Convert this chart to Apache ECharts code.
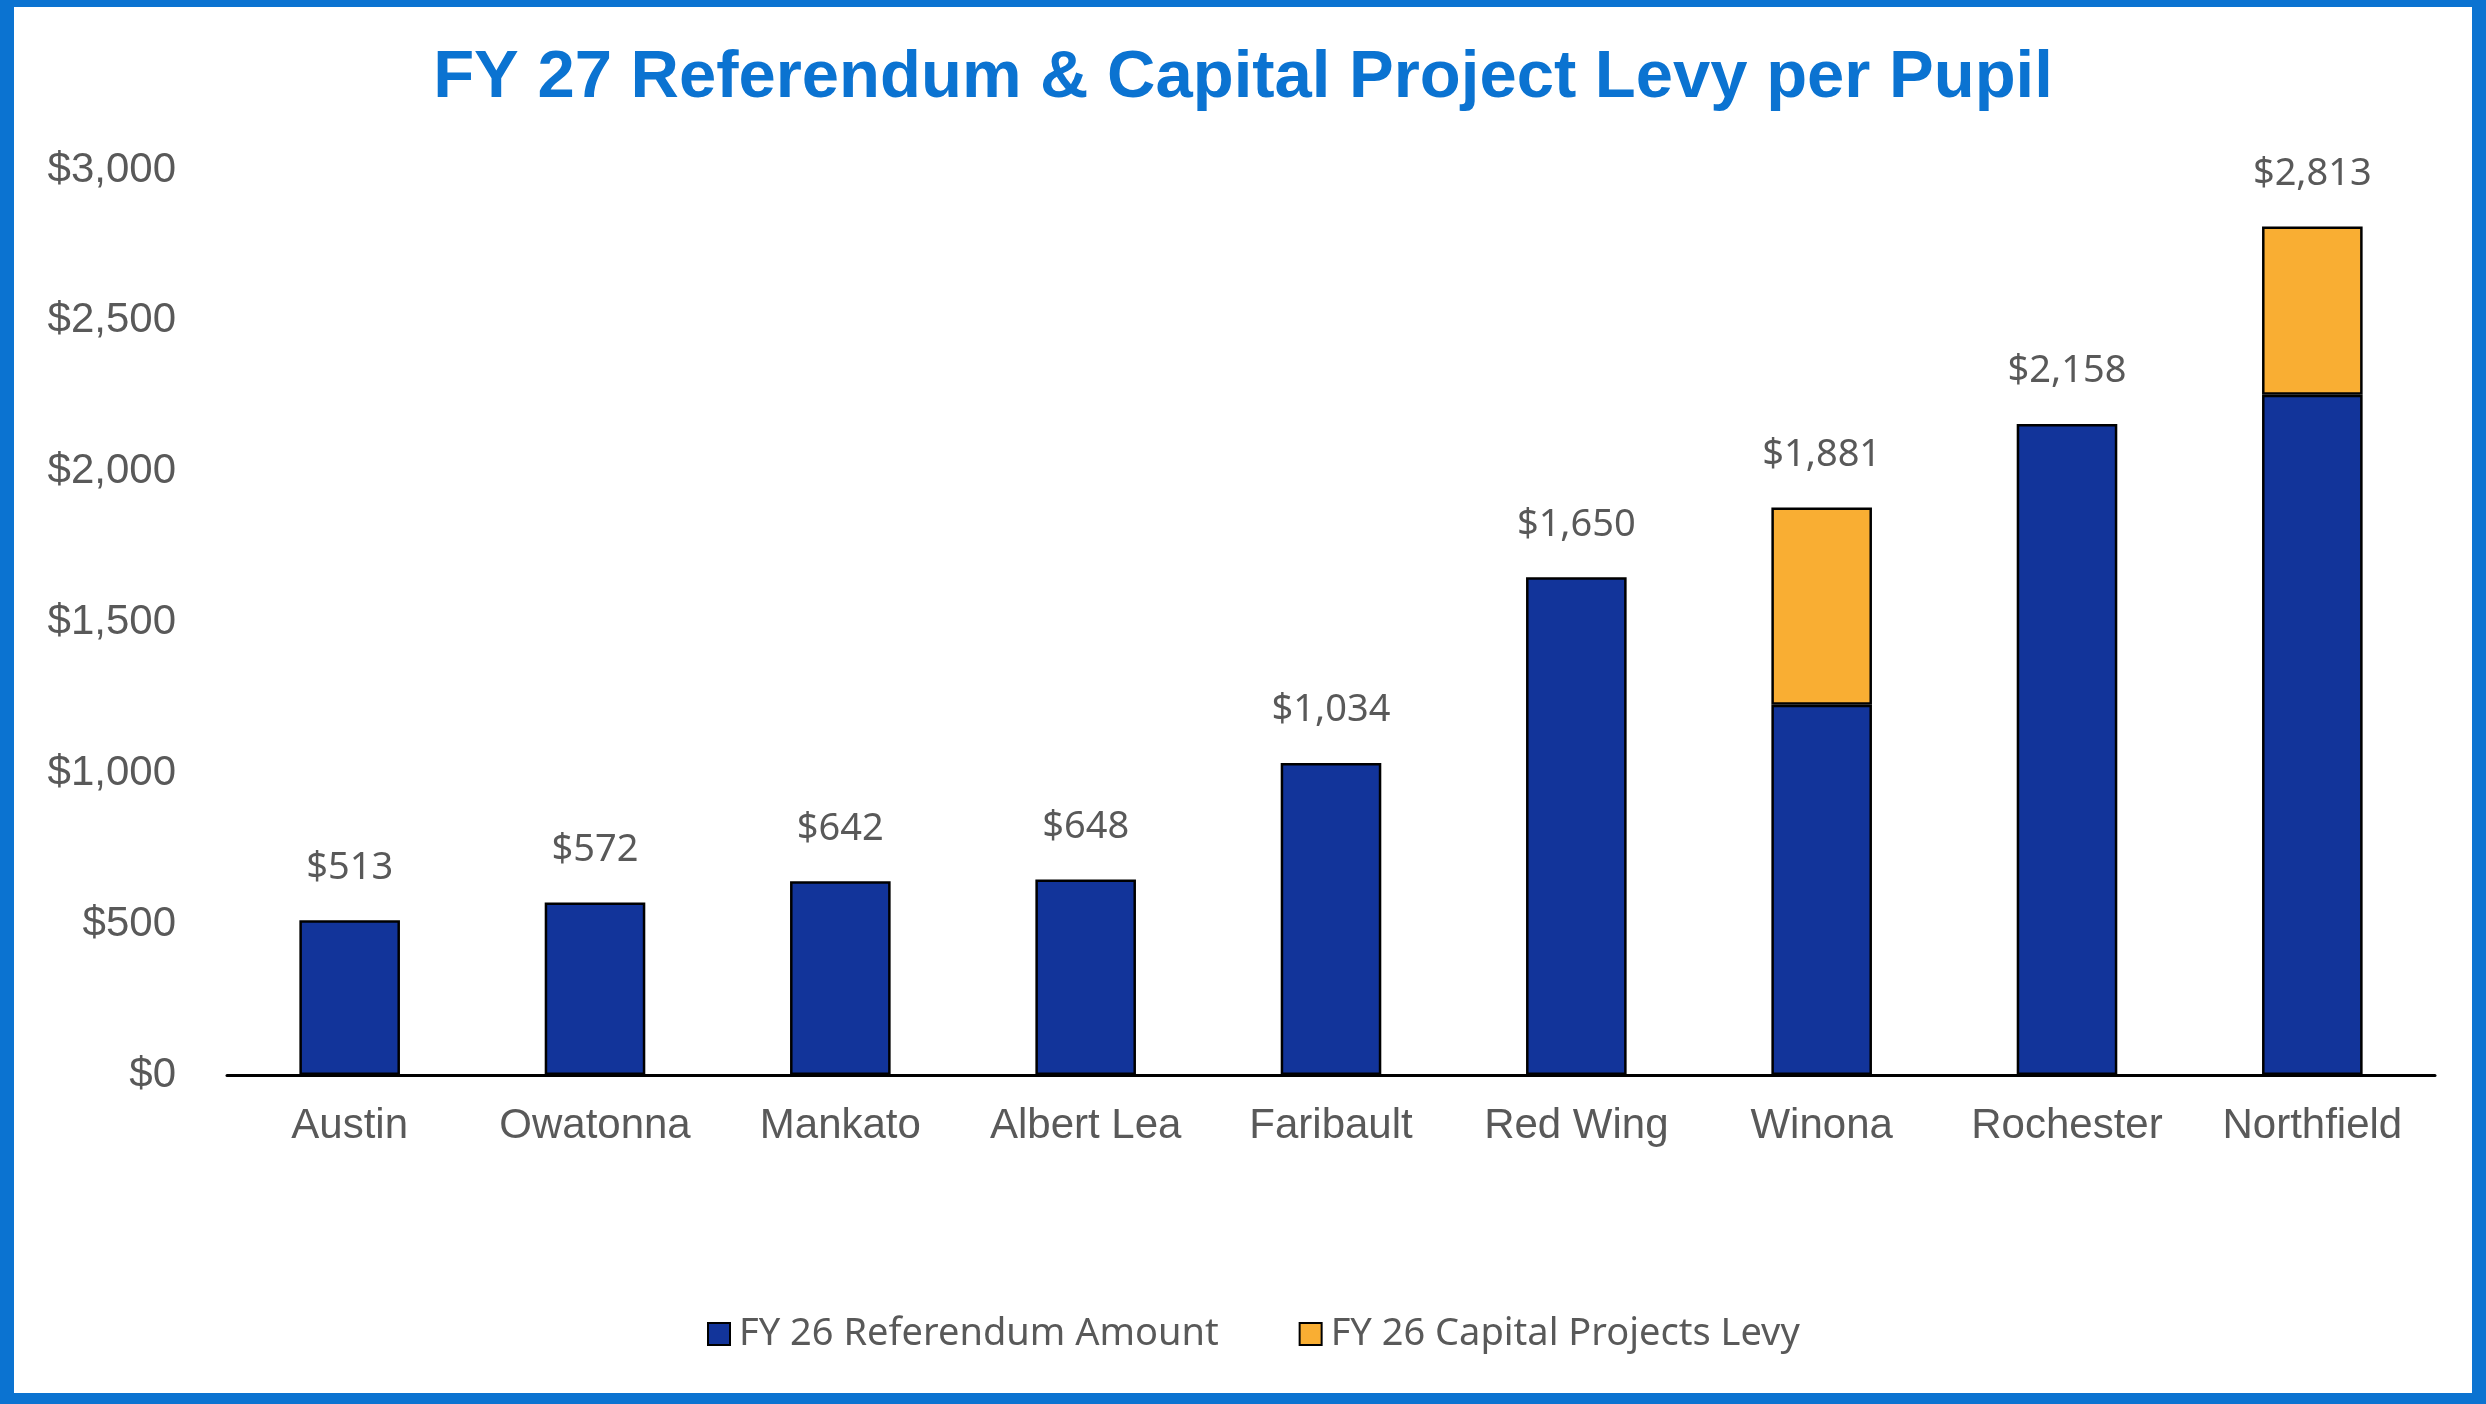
<!DOCTYPE html>
<html>
<head>
<meta charset="utf-8">
<script src="https://cdn.jsdelivr.net/npm/echarts@6/dist/echarts.min.js"></script>
<style>
html,body{margin:0;padding:0;background:#fff;}
#chart{width:2486px;height:1404px;}
</style>
</head>
<body>
<div id="chart"></div>
<script>
const categories = ['Austin','Owatonna','Mankato','Albert Lea','Faribault','Red Wing','Winona','Rochester','Northfield'];
const referendum = [513, 572, 642, 648, 1034, 1650, 1227, 2158, 2255];
const capitalLevy = [0, 0, 0, 0, 0, 0, 654, 0, 558];
const totals = [513, 572, 642, 648, 1034, 1650, 1881, 2158, 2813];
const yTicks = [0, 500, 1000, 1500, 2000, 2500, 3000];

const fmt = v => '$' + Number(v).toLocaleString('en-US');

const chart = echarts.init(document.getElementById('chart'));
const frame = '#0b73d1';
chart.setOption({
  animation: false,
  backgroundColor: '#ffffff',
  title: {
    text: 'FY 27 Referendum & Capital Project Levy per Pupil',
    left: 'center',
    top: 40,
    textStyle: { fontFamily: 'Liberation Sans, Arial, sans-serif', fontWeight: 'bold', fontSize: 67, color: '#0b73d1' }
  },
  legend: {
    bottom: 46,
    left: 702,
    data: ['FY 26 Referendum Amount', 'FY 26 Capital Projects Levy'],
    icon: 'rect',
    itemWidth: 22,
    itemHeight: 22,
    itemGap: 80,
    textStyle: { fontFamily: 'Noto Sans, sans-serif', fontSize: 38, color: '#595959', padding: [0, 0, 0, 4] }
  },
  grid: { left: 227, right: 51, top: 170, bottom: 329, containLabel: false },
  xAxis: {
    type: 'category',
    data: categories,
    axisLine: { show: true, lineStyle: { color: '#000000', width: 3 } },
    axisTick: { show: false },
    axisLabel: { interval: 0, margin: 30, fontFamily: 'Liberation Sans, Arial, sans-serif', fontSize: 42, color: '#595959' }
  },
  yAxis: {
    type: 'value',
    min: yTicks[0],
    max: yTicks[yTicks.length - 1],
    interval: 500,
    splitLine: { show: false },
    axisLine: { show: false },
    axisTick: { show: false },
    axisLabel: { margin: 51, fontFamily: 'Liberation Sans, Arial, sans-serif', fontSize: 42, color: '#595959', formatter: fmt }
  },
  series: [
    {
      name: 'FY 26 Referendum Amount',
      type: 'bar',
      stack: 'total',
      data: referendum,
      barWidth: '41%',
      itemStyle: { color: '#12349a', borderColor: '#000000', borderWidth: 2.5 }
    },
    {
      name: 'FY 26 Capital Projects Levy',
      type: 'bar',
      stack: 'total',
      data: capitalLevy.map(v => v === 0 ? null : v),
      barWidth: '41%',
      itemStyle: { color: '#f9ae33', borderColor: '#000000', borderWidth: 2.5 }
    },
    {
      name: 'Total',
      type: 'line',
      data: totals,
      symbol: 'circle',
      symbolSize: 1,
      showSymbol: true,
      itemStyle: { color: 'rgba(0,0,0,0)' },
      lineStyle: { opacity: 0 },
      silent: true,
      z: 10,
      label: {
        show: true,
        position: 'top',
        distance: 33,
        formatter: p => fmt(p.value),
        fontFamily: 'Noto Sans, sans-serif',
        fontSize: 38,
        color: '#595959'
      }
    }
  ],
  graphic: [
    { type: 'rect', shape: { x: 0, y: 0, width: 2486, height: 7 }, style: { fill: frame }, z: 100 },
    { type: 'rect', shape: { x: 0, y: 1393, width: 2486, height: 11 }, style: { fill: frame }, z: 100 },
    { type: 'rect', shape: { x: 0, y: 0, width: 14, height: 1404 }, style: { fill: frame }, z: 100 },
    { type: 'rect', shape: { x: 2472, y: 0, width: 14, height: 1404 }, style: { fill: frame }, z: 100 }
  ]
});
</script>
</body>
</html>
